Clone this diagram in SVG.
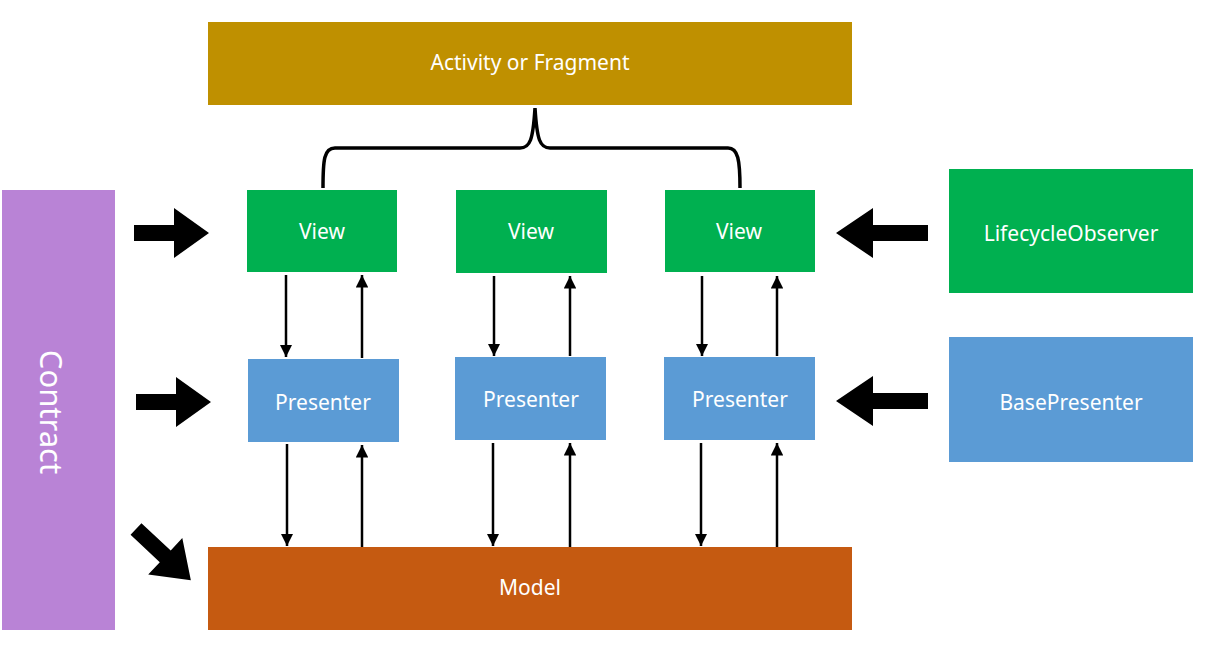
<svg xmlns="http://www.w3.org/2000/svg" width="1218" height="646" viewBox="0 0 1218 646">
<defs>
<marker id="ah" viewBox="0 0 10 10" refX="10" refY="5" markerWidth="5" markerHeight="5" markerUnits="strokeWidth" orient="auto"><path d="M0,0 L10,5 L0,10 z" fill="#000"/></marker>
<path id="big" d="M0,-8 L40,-8 L40,-25 L75,0 L40,25 L40,8 L0,8 z" fill="#000"/>
<path id="bigL" d="M0,-8 L55,-8 L55,-25 L92,0 L55,25 L55,8 L0,8 z" fill="#000"/>
</defs>
<style>
text{font-family:"Microsoft YaHei","Noto Sans","DejaVu Sans",sans-serif;fill:#fff;font-size:21px;text-anchor:middle;dominant-baseline:central}
.g{fill:#00B050}.b{fill:#5B9BD5}
.c line{stroke:#000;stroke-width:2.5;marker-end:url(#ah)}
</style>
<rect width="1218" height="646" fill="#fff"/>
<g id="activity"><rect x="208" y="22" width="644" height="83" fill="#BF9000"/><text x="530" y="62">Activity or Fragment</text></g>
<g id="contract"><rect x="2" y="190" width="113" height="440" fill="#B983D6"/><text transform="translate(52,412) rotate(90)" style="font-size:31px">Contract</text></g>
<g id="view1"><rect class="g" x="247" y="190" width="150" height="82"/><text x="322" y="231">View</text></g>
<g id="view2"><rect class="g" x="456" y="190" width="151" height="83"/><text x="531" y="231">View</text></g>
<g id="view3"><rect class="g" x="665" y="190" width="150" height="82"/><text x="739" y="231">View</text></g>
<g id="presenter1"><rect class="b" x="248" y="359" width="151" height="83"/><text x="323" y="402">Presenter</text></g>
<g id="presenter2"><rect class="b" x="455" y="357" width="151" height="83"/><text x="531" y="399">Presenter</text></g>
<g id="presenter3"><rect class="b" x="664" y="357" width="151" height="83"/><text x="740" y="399">Presenter</text></g>
<g id="model"><rect x="208" y="547" width="644" height="83" fill="#C55A11"/><text x="530" y="587">Model</text></g>
<g id="lifecycle"><rect class="g" x="949" y="169" width="244" height="124"/><text x="1071" y="233">LifecycleObserver</text></g>
<g id="basepresenter"><rect class="b" x="949" y="337" width="244" height="125"/><text x="1071" y="402">BasePresenter</text></g>
<g id="connectors" class="c">
<path d="M323,188 C323,160 324,148 335,148 L520,148 C530,148 533,140 535,108 C537,140 540,148 550,148 L728,148 C738,148 740,160 740,188" fill="none" stroke="#000" stroke-width="3.5"/>
<line x1="286" y1="275" x2="286" y2="357"/><line x1="362" y1="358" x2="362" y2="275"/>
<line x1="494" y1="276" x2="494" y2="356"/><line x1="570" y1="356" x2="570" y2="276"/>
<line x1="702" y1="276" x2="702" y2="356"/><line x1="777" y1="356" x2="777" y2="276"/>
<line x1="287" y1="444" x2="287" y2="546"/><line x1="362" y1="547" x2="362" y2="445"/>
<line x1="493" y1="443" x2="493" y2="546"/><line x1="570" y1="547" x2="570" y2="443"/>
<line x1="701" y1="443" x2="701" y2="546"/><line x1="777" y1="547" x2="777" y2="443"/>
<use href="#big" transform="translate(134,233)"/>
<use href="#big" transform="translate(136,402)"/>
<use href="#bigL" transform="translate(928,233) rotate(180)"/>
<use href="#bigL" transform="translate(928,401) rotate(180)"/>
<use href="#big" transform="translate(136,529) rotate(43)"/>
</g>
</svg>
